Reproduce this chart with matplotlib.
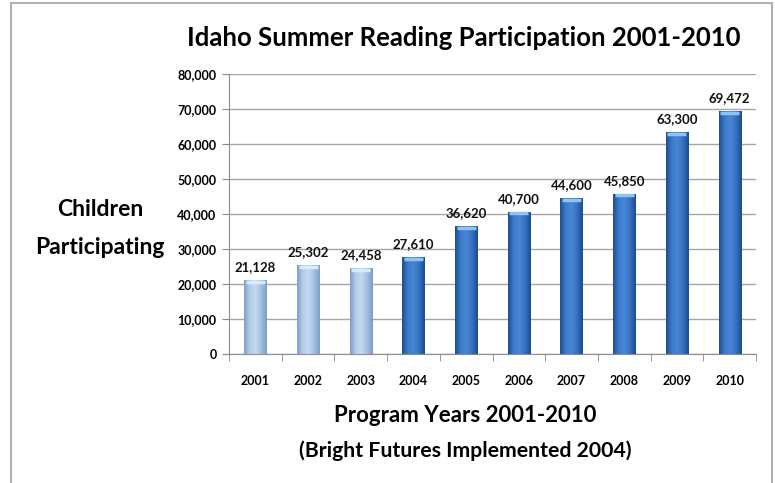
import matplotlib
matplotlib.use("Agg")
import matplotlib.pyplot as plt
from matplotlib.colors import LinearSegmentedColormap
from matplotlib.lines import Line2D
from matplotlib.ticker import FuncFormatter, MultipleLocator
import numpy as np

years = ["2001", "2002", "2003", "2004", "2005", "2006", "2007", "2008", "2009", "2010"]
children = [21128, 25302, 24458, 27610, 36620, 40700, 44600, 45850, 63300, 69472]
bright_futures = [False, False, False, True, True, True, True, True, True, True]

plt.rcParams["font.family"] = ["Lato", "DejaVu Sans"]

light = LinearSegmentedColormap.from_list("light", ["#7f9fc6", "#b4cdea", "#c4d9f1", "#a3bfe0", "#7d9cc4"])
dark = LinearSegmentedColormap.from_list("dark", ["#1f4f8f", "#3c7bcc", "#4887d6", "#3571c0", "#1d4d8c"])

fig = plt.figure(figsize=(7.75, 4.83), dpi=100)
ax = fig.add_axes([229 / 775, 1 - 354 / 483, 527 / 775, 280 / 483])

x = np.arange(len(years))
bars = ax.bar(x, children, width=0.42, color="none", zorder=3)
grad = np.linspace(0, 1, 64).reshape(1, -1)
for b, bf in zip(bars, bright_futures):
    x0, w, h = b.get_x(), b.get_width(), b.get_height()
    im = ax.imshow(grad, cmap=dark if bf else light, aspect="auto",
                   extent=(x0, x0 + w, 0, h), zorder=3)
    im.set_clip_path(b)
    ax.plot([x0 + 0.03, x0 + w - 0.03], [h - 500, h - 500],
            color="#d6ecfb" if not bf else "#8fc3f0", lw=2.5, zorder=4, solid_capstyle="butt")
    ax.annotate(f"{h:,.0f}", (x0 + w / 2, h), xytext=(0, 5), textcoords="offset points",
                ha="center", va="bottom", fontsize=9.5, fontweight="bold", color="#111111")

ax.set_xlim(-0.5, len(years) - 0.5)
ax.set_ylim(0, 80000)
ax.yaxis.set_major_locator(MultipleLocator(10000))
ax.yaxis.set_major_formatter(FuncFormatter(lambda v, p: f"{v:,.0f}"))
ax.set_xticks(x)
ax.set_xticklabels(years)
ax.set_xticks(np.arange(-0.5, len(years)), minor=True)
ax.tick_params(axis="x", which="major", length=0, pad=15, labelsize=9)
ax.tick_params(axis="x", which="minor", length=5, color="#888888", direction="out")
ax.tick_params(axis="y", length=5, color="#888888", labelsize=9, pad=4)
for lab in ax.get_xticklabels() + ax.get_yticklabels():
    lab.set_fontweight("bold")
ax.grid(axis="y", color="#a6a6a6", lw=1, zorder=0)
ax.set_axisbelow(True)
for s in ("top", "right"):
    ax.spines[s].set_visible(False)
for s in ("left", "bottom"):
    ax.spines[s].set_color("#8c8c8c")

fig.text(464 / 775, 1 - 38 / 483, "Idaho Summer Reading Participation 2001-2010",
         ha="center", va="center", fontsize=18.5, fontweight="bold")
fig.text(100 / 775, 1 - 210 / 483, "Children", ha="center", va="center",
         fontsize=16.5, fontweight="bold")
fig.text(100 / 775, 1 - 247 / 483, "Participating", ha="center", va="center",
         fontsize=16.5, fontweight="bold")
fig.text(465 / 775, 1 - 416 / 483, "Program Years 2001-2010", ha="center", va="center",
         fontsize=16, fontweight="bold")
fig.text(465 / 775, 1 - 451 / 483, "(Bright Futures Implemented 2004)", ha="center", va="center",
         fontsize=15.3, fontweight="bold")

# outer frame (open at the bottom)
fig.add_artist(Line2D([10.5 / 775, 10.5 / 775, 772 / 775, 772 / 775],
                      [0, 1 - 3 / 483, 1 - 3 / 483, 0], color="#b0b0b0", lw=1.5))

fig.savefig("out.png", dpi=100)
